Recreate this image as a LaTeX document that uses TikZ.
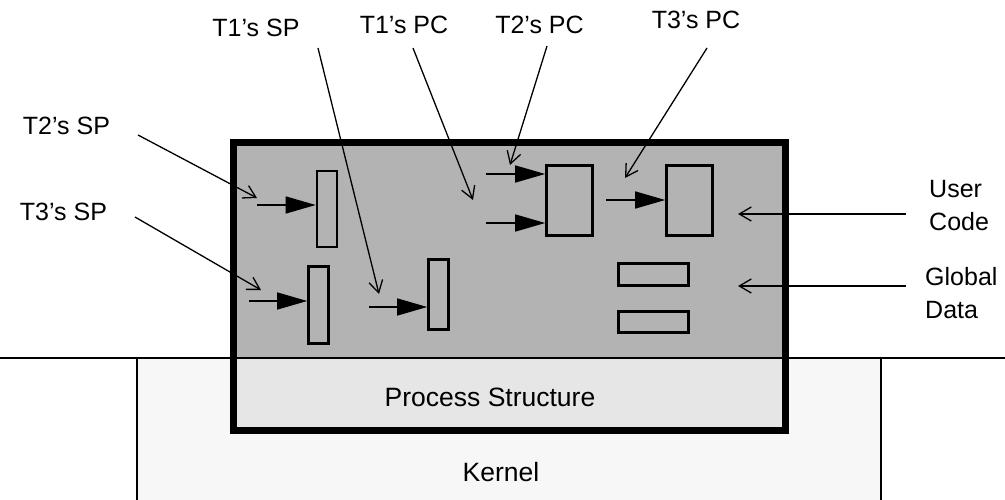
\documentclass[tikz,border=0pt]{standalone}
\usepackage{fontspec}
\setmainfont{Liberation Sans}
\usetikzlibrary{arrows.meta}
\definecolor{procgray}{HTML}{B3B3B3}
\definecolor{structgray}{HTML}{E6E6E6}
\definecolor{kernelgray}{HTML}{F7F7F7}
\begin{document}
\begin{tikzpicture}[x=1pt,y=-1pt,
  lbl/.style={font=\fontsize{25}{33}\selectfont, inner sep=0pt},
  biglbl/.style={font=\fontsize{26.5}{33}\selectfont, inner sep=0pt},
  membox/.style={draw, line width=2.6pt, fill=procgray, inner sep=0pt},
  ptr/.style={line width=1.5pt, -{Triangle[length=30pt,width=17pt]}},
  labarrow/.style={line width=1.3pt, -{Straight Barb[length=12pt,width=14pt,line width=1.3pt]}}]
\useasboundingbox (0,0) rectangle (1005,500);

% kernel
\fill[kernelgray] (137,358) rectangle (881,505);
\draw[line width=1.8pt] (137,358) -- (137,505) (881,358) -- (881,505);
\node[biglbl] (kernel) at (501,472) {Kernel};

% process area
\fill[procgray] (233.5,142.5) rectangle (785.5,358);
\fill[structgray] (233.5,358) rectangle (785.5,430);
\draw[line width=2.5pt] (0,358) -- (1005,358);
\draw[line width=7pt] (233.5,142.5) rectangle (785.5,430);
\node[biglbl] (ps) at (490,397.5) {Process Structure};

% stacks and code/data boxes
\node[membox, minimum width=20pt, minimum height=76pt] (a) at (327,209) {};
\node[membox, minimum width=20pt, minimum height=77pt] (b) at (318.5,305) {};
\node[membox, minimum width=20pt, minimum height=70pt] (c) at (438.5,294.5) {};
\node[membox, minimum width=46pt, minimum height=70pt] (d) at (569.5,200.5) {};
\node[membox, minimum width=46pt, minimum height=70pt] (e) at (689.5,200.5) {};
\node[membox, minimum width=70pt, minimum height=22pt] (f) at (653.5,274.5) {};
\node[membox, minimum width=70pt, minimum height=21pt] (g) at (653.5,322) {};

% pointer arrows
\coordinate (pa) at (257,205);
\coordinate (pb) at (249,301);
\coordinate (pc) at (369,307);
\coordinate (pd1) at (486,174);
\coordinate (pd2) at (486,223);
\coordinate (pe) at (606,200);
\draw[ptr] (pa) -- (pa -| a.west);
\draw[ptr] (pb) -- (pb -| b.west);
\draw[ptr] (pc) -- (pc -| c.west);
\draw[ptr] (pd1) -- (pd1 -| d.west);
\draw[ptr] (pd2) -- (pd2 -| d.west);
\draw[ptr] (pe) -- (pe -| e.west);

% labels
\node[lbl] (t1sp) at (256,28) {T1’s SP};
\node[lbl] (t1pc) at (404,24.5) {T1’s PC};
\node[lbl] (t2pc) at (539.5,24.5) {T2’s PC};
\node[lbl] (t3pc) at (696,20) {T3’s PC};
\node[lbl] (t2sp) at (66.5,126) {T2’s SP};
\node[lbl] (t3sp) at (63.5,211.5) {T3’s SP};
\node[lbl, align=left, anchor=west] (uc) at (929,206) {User\\Code};
\node[lbl, align=left, anchor=west] (gd) at (925,293) {Global\\Data};

% label connectors
\coordinate (s1sp) at (318,48);  \coordinate (e1sp) at (379,294);
\coordinate (s1pc) at (413,48);  \coordinate (e1pc) at (473,200);
\coordinate (s2pc) at (547,46);  \coordinate (e2pc) at (510,165);
\coordinate (s3pc) at (707,48);  \coordinate (e3pc) at (625,178);
\coordinate (s2sp) at (138,135); \coordinate (e2sp) at (257,198);
\coordinate (s3sp) at (135,217); \coordinate (e3sp) at (261,290);
\coordinate (suc) at (906,214);  \coordinate (euc) at (738,214);
\coordinate (sgd) at (906,286);  \coordinate (egd) at (738,286);
\draw[labarrow] (s1sp) -- (e1sp);
\draw[labarrow] (s1pc) -- (e1pc);
\draw[labarrow] (s2pc) -- (e2pc);
\draw[labarrow] (s3pc) -- (e3pc);
\draw[labarrow] (s2sp) -- (e2sp);
\draw[labarrow] (s3sp) -- (e3sp);
\draw[labarrow] (suc) -- (euc);
\draw[labarrow] (sgd) -- (egd);
\end{tikzpicture}
\end{document}
